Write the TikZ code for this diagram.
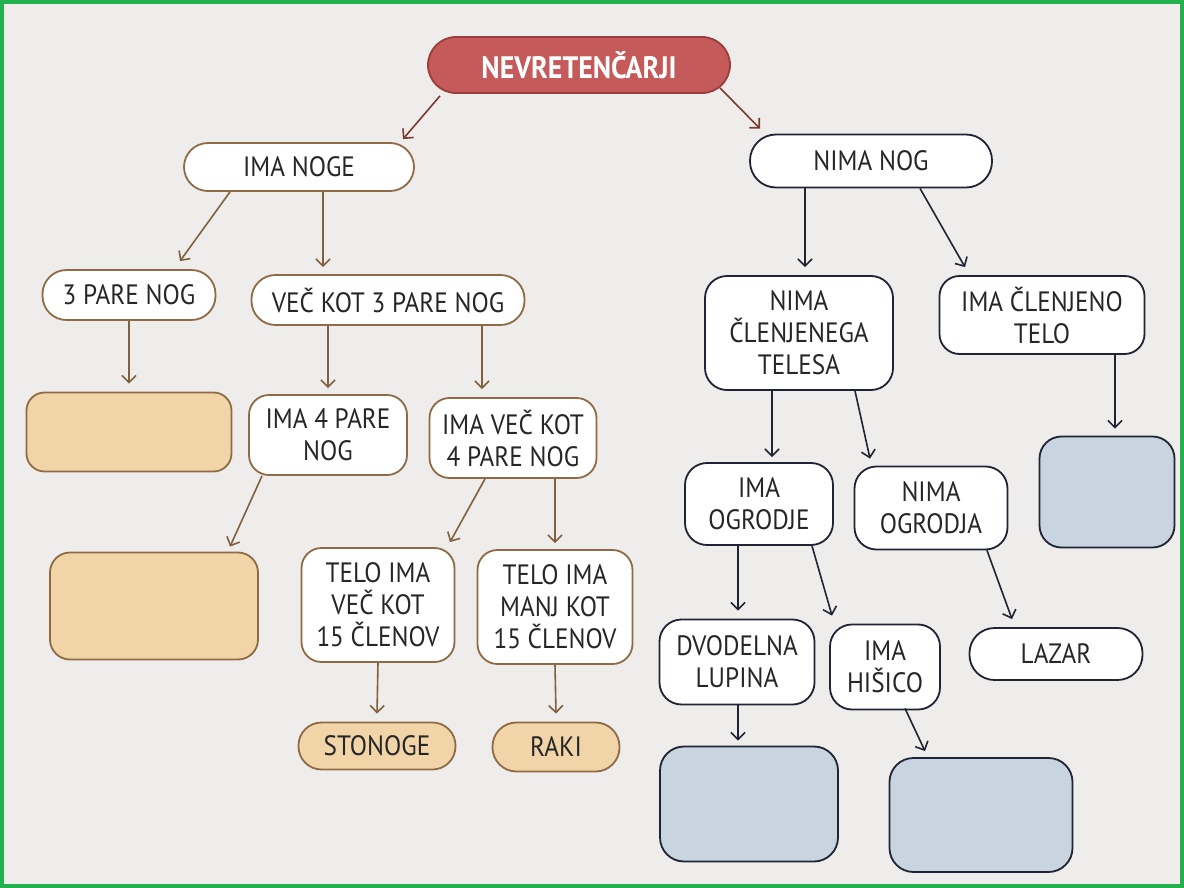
\documentclass[tikz,border=0pt]{standalone}
\usepackage{fontspec}
\setmainfont{PT Sans}[FakeStretch=0.9]
\usepackage{tikz}
\usetikzlibrary{calc,arrows.meta}
\usepackage{xcolor}

\definecolor{paper}{HTML}{EFEDEB}
\definecolor{frame}{HTML}{22B14C}
\definecolor{rootfill}{HTML}{C55A5A}
\definecolor{rootline}{HTML}{9A3C3A}
\definecolor{rootarrow}{HTML}{7A3A30}
\definecolor{brownline}{HTML}{8F6B45}
\definecolor{tanfill}{HTML}{F1D4A8}
\definecolor{navyline}{HTML}{1E2433}
\definecolor{bluefill}{HTML}{C8D4DF}

\begin{document}
\begin{tikzpicture}[x=1pt, y=-1pt,
		box/.style={draw, line width=1.8pt, align=center, inner sep=0pt, text=black!85, font=\fontsize{28}{32}\selectfont},
		brbox/.style={box, draw=brownline, fill=white},
		tanbox/.style={box, draw=brownline, fill=tanfill},
		blbox/.style={box, draw=navyline, fill=white},
		bluebox/.style={box, draw=navyline, fill=bluefill},
		brarr/.style={draw=brownline!90!black, line width=1.6pt, -{Straight Barb[length=7pt,width=14pt]}},
		blarr/.style={draw=navyline, line width=1.6pt, -{Straight Barb[length=7pt,width=14pt]}},
		rootarr/.style={draw=rootarrow, line width=1.6pt, -{Straight Barb[length=7pt,width=14pt]}}
	]

			\fill[paper] (0, 0) rectangle (1184, 888);
			\useasboundingbox (0, 0) rectangle (1184, 888);
			\draw[frame, line width=4pt] (2, 2) rectangle (1182, 886);

			\node[box, draw=rootline, fill=rootfill, rounded corners=28, minimum width=302, minimum height=56, text=white, font=\fontsize{31}{34}\selectfont\bfseries] (root) at (579, 65) {NEVRETENČARJI};

			\node[brbox, rounded corners=24, minimum width=230, minimum height=48] (imanoge) at (299, 167) {IMA NOGE};
			\node[brbox, rounded corners=24, minimum width=173, minimum height=50] (trije) at (129, 295) {3 PARE NOG};
			\node[brbox, rounded corners=24, minimum width=273, minimum height=50] (vec3) at (388, 300) {VEČ KOT 3 PARE NOG};
			\node[tanbox, rounded corners=18, minimum width=205, minimum height=79] (tan1) at (129, 432) {};
			\node[brbox, rounded corners=20, minimum width=158, minimum height=80] (ima4) at (328, 435) {IMA 4 PARE\\NOG};
			\node[brbox, rounded corners=20, minimum width=167, minimum height=80] (imavec4) at (513, 438) {IMA VEČ KOT\\4 PARE NOG};
			\node[tanbox, rounded corners=20, minimum width=208, minimum height=107] (tan2) at (154, 606) {};
			\node[brbox, rounded corners=20, minimum width=153, minimum height=114] (telovec) at (378, 605) {TELO IMA\\VEČ KOT\\15 ČLENOV};
			\node[brbox, rounded corners=20, minimum width=155, minimum height=114] (telomanj) at (555, 607) {TELO IMA\\MANJ KOT\\15 ČLENOV};
			\node[tanbox, rounded corners=23, minimum width=157, minimum height=47] (stonoge) at (377, 746) {STONOGE};
			\node[tanbox, rounded corners=24, minimum width=127, minimum height=49] (raki) at (556, 747) {RAKI};

			\node[blbox, rounded corners=26, minimum width=242, minimum height=53] (nimanog) at (871, 161) {NIMA NOG};
			\node[blbox, rounded corners=22, minimum width=188, minimum height=114] (nimaclen) at (799, 333) {NIMA\\ČLENJENEGA\\TELESA};
			\node[blbox, rounded corners=20, minimum width=205, minimum height=78] (imaclen) at (1042, 315) {IMA ČLENJENO\\TELO};
			\node[bluebox, rounded corners=22, minimum width=135, minimum height=111] (blue1) at (1107, 492) {};
			\node[blbox, rounded corners=22, minimum width=148, minimum height=82] (imaogr) at (759, 504) {IMA\\OGRODJE};
			\node[blbox, rounded corners=22, minimum width=153, minimum height=83] (nimaogr) at (931, 508) {NIMA\\OGRODJA};
			\node[blbox, rounded corners=22, minimum width=155, minimum height=85] (dvod) at (737, 662) {DVODELNA\\LUPINA};
			\node[blbox, rounded corners=22, minimum width=110, minimum height=85] (hisico) at (885, 667) {IMA\\HIŠICO};
			\node[blbox, rounded corners=25, minimum width=173, minimum height=52] (lazar) at (1056, 654) {LAZAR};
			\node[bluebox, rounded corners=24, minimum width=178, minimum height=115] (blue2) at (749, 804) {};
			\node[bluebox, rounded corners=24, minimum width=183, minimum height=114] (blue3) at (981, 815) {};

			\draw[rootarr] ([xshift=-139, yshift=-2]root.south) -- ([xshift=104, yshift=3]imanoge.north);
			\draw[rootarr] ([xshift=141, yshift=6]root.south) -- ([xshift=-111, yshift=5]nimanog.north);

			\draw[brarr] ([xshift=-69]imanoge.south) -- ([xshift=51, yshift=8]trije.north);
			\draw[brarr] ([xshift=24]imanoge.south) -- ([xshift=-65, yshift=7]vec3.north);
			\draw[brarr] (trije.south) -- ([yshift=8]tan1.north);
			\draw[brarr] ([xshift=-60]vec3.south) -- ([yshift=6]ima4.north);
			\draw[brarr] ([xshift=94]vec3.south) -- ([xshift=-31, yshift=8]imavec4.north);
			\draw[brarr] ([xshift=-66]ima4.south) -- ([xshift=76, yshift=5]tan2.north);
			\draw[brarr] ([xshift=-28]imavec4.south) -- ([xshift=72, yshift=5]telovec.north);
			\draw[brarr] ([xshift=42]imavec4.south) -- ([yshift=6]telomanj.north);
			\draw[brarr] (telovec.south) -- ([yshift=8]stonoge.north);
			\draw[brarr] (telomanj.south) -- ([yshift=8]raki.north);

			\draw[blarr] ([xshift=-66]nimanog.south) -- ([xshift=6, yshift=8]nimaclen.north);
			\draw[blarr] ([xshift=49]nimanog.south) -- ([xshift=-77, yshift=8]imaclen.north);
			\draw[blarr] ([xshift=-27]nimaclen.south) -- ([xshift=13, yshift=5]imaogr.north);
			\draw[blarr] ([xshift=56]nimaclen.south) -- ([xshift=-61, yshift=7]nimaogr.north);
			\draw[blarr] ([xshift=73]imaclen.south) -- ([xshift=8, yshift=7]blue1.north);
			\draw[blarr] ([xshift=-21]imaogr.south) -- ([xshift=1, yshift=8]dvod.north);
			\draw[blarr] ([xshift=53]imaogr.south) -- ([xshift=-53, yshift=8]hisico.north);
			\draw[blarr] ([xshift=56]nimaogr.south) -- ([xshift=-44, yshift=8]lazar.north);
			\draw[blarr] ([xshift=1]dvod.south) -- ([xshift=-11, yshift=5]blue2.north);
			\draw[blarr] ([xshift=20, yshift=2]hisico.south) -- ([xshift=-56, yshift=6]blue3.north);

		\end{tikzpicture}
\end{document}
